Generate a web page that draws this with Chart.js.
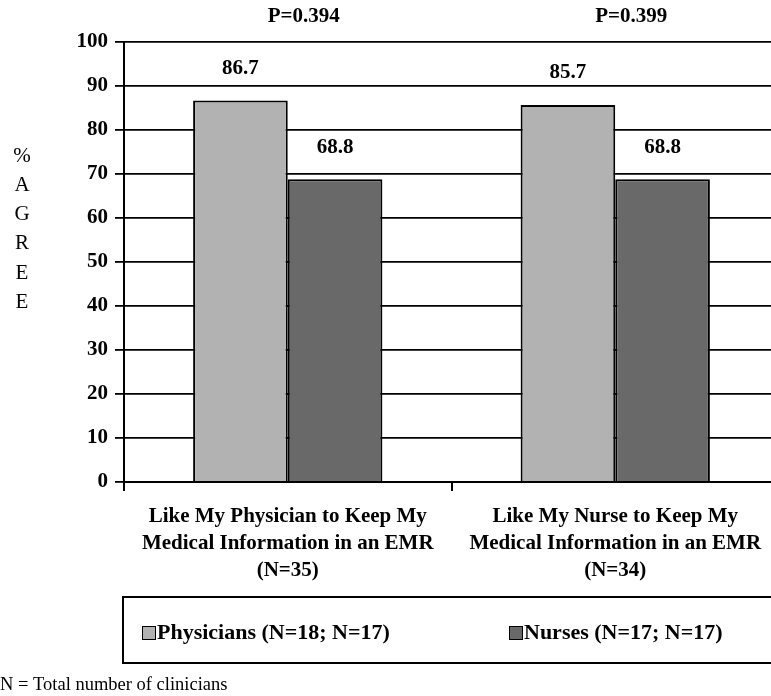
<!DOCTYPE html>
<html>
<head>
<meta charset="utf-8">
<script src="https://cdn.jsdelivr.net/npm/chart.js@4.4.0/dist/chart.umd.min.js"></script>
<style>
  html, body { margin: 0; padding: 0; background: #fff; overflow: hidden; }
  #wrap { width: 771px; height: 696px; overflow: hidden; position: relative; }
  canvas { display: block; }
</style>
</head>
<body>
<div id="wrap"><canvas id="emrChart" width="790" height="696"></canvas></div>
<script>
// ====== DATA ======
const categories = [
  ["Like My Physician to Keep My", "Medical Information in an EMR", "(N=35)"],
  ["Like My Nurse to Keep My", "Medical Information in an EMR", "(N=34)"]
];
const physicianValues = [86.7, 85.7];
const nurseValues = [68.8, 68.8];
const seriesLabels = ["Physicians (N=18; N=17)", "Nurses (N=17; N=17)"];
const pValues = ["P=0.394", "P=0.399"];
const yTitle = ["%", "A", "G", "R", "E", "E"];
const footnote = "N = Total number of clinicians";

const SERIF = "'Liberation Serif', 'Times New Roman', serif";
const LIGHT = "#b2b2b2";
const DARK = "#696969";

// ====== EXTRA DRAWING ======
const annotations = {
  id: "annotations",
  afterDatasetsDraw(chart) {
    const ctx = chart.ctx;
    const x = chart.scales.x;
    ctx.save();
    ctx.fillStyle = "#000";
    ctx.textAlign = "center";
    ctx.textBaseline = "middle";
    ctx.font = "bold 21px " + SERIF;

    // value labels above bars
    chart.data.datasets.forEach((ds, i) => {
      chart.getDatasetMeta(i).data.forEach((bar, j) => {
        ctx.fillText(ds.data[j].toFixed(1), bar.x, bar.y - 32);
      });
    });

    // p values above each group
    pValues.forEach((p, j) => {
      ctx.fillText(p, x.getPixelForValue(j) + 16, 17);
    });

    // stacked y title
    ctx.font = "21px " + SERIF;
    yTitle.forEach((ch, k) => {
      ctx.fillText(ch, 22, 156 + k * 29.3);
    });

    // legend box
    ctx.lineWidth = 2;
    ctx.strokeStyle = "#000";
    ctx.strokeRect(123, 597, 700, 66);
    const items = [{ x: 142, color: LIGHT }, { x: 509, color: DARK }];
    ctx.textAlign = "left";
    ctx.font = "bold 22px " + SERIF;
    items.forEach((it, k) => {
      ctx.fillStyle = it.color;
      ctx.fillRect(it.x, 626, 13, 13);
      ctx.lineWidth = 1;
      ctx.strokeRect(it.x + 0.5, 626.5, 13, 13);
      ctx.fillStyle = "#000";
      ctx.fillText(seriesLabels[k], it.x + 15, 633);
    });

    // footnote
    ctx.font = "18.5px " + SERIF;
    ctx.fillText(footnote, 0, 685);
    ctx.restore();
  }
};

const ctx = document.getElementById("emrChart").getContext("2d");
new Chart(ctx, {
  type: "bar",
  data: {
    labels: categories,
    datasets: [
      {
        label: seriesLabels[0],
        data: physicianValues,
        backgroundColor: LIGHT,
        borderColor: "#000",
        borderWidth: 2
      },
      {
        label: seriesLabels[1],
        data: nurseValues,
        backgroundColor: DARK,
        borderColor: "#000",
        borderWidth: 2
      }
    ]
  },
  options: {
    responsive: false,
    animation: false,
    devicePixelRatio: 1,
    layout: { padding: { top: 42, right: 11, left: 0, bottom: 0 } },
    datasets: { bar: { categoryPercentage: 0.578, barPercentage: 1.0 } },
    plugins: {
      legend: { display: false },
      tooltip: { enabled: false }
    },
    scales: {
      x: {
        grid: {
          drawOnChartArea: false,
          color: "#000",
          lineWidth: 2,
          tickLength: 9,
          offset: true
        },
        border: { color: "#000", width: 2 },
        ticks: {
          color: "#000",
          font: { family: SERIF, size: 21, weight: "bold", lineHeight: 1.29 },
          padding: 12,
          maxRotation: 0,
          autoSkip: false
        },
        afterFit: s => { s.height = 214; }
      },
      y: {
        min: 0,
        max: 100,
        ticks: {
          stepSize: 10,
          color: "#000",
          font: { family: SERIF, size: 21, weight: "bold" },
          padding: 7
        },
        grid: { color: "#000", lineWidth: 1.8, tickLength: 9 },
        border: { color: "#000", width: 2 },
        afterFit: s => { s.width = 124; }
      }
    }
  },
  plugins: [annotations]
});
</script>
</body>
</html>
